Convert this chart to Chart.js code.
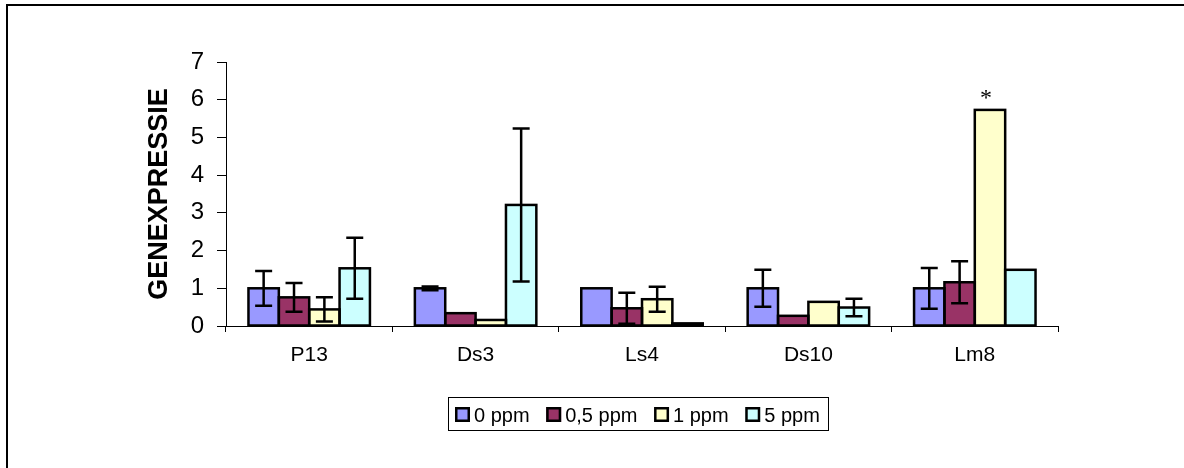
<!DOCTYPE html>
<html>
<head>
<meta charset="utf-8">
<script src="https://cdn.jsdelivr.net/npm/chart.js@4.4.1/dist/chart.umd.min.js"></script>
<style>
  html, body { margin: 0; padding: 0; background: #fff; }
  #c { display: block; }
</style>
</head>
<body>
<canvas id="c" width="1184" height="468"></canvas>
<script>
const categories = ['P13', 'Ds3', 'Ls4', 'Ds10', 'Lm8'];
const seriesNames = ['0 ppm', '0,5 ppm', '1 ppm', '5 ppm'];
const ppm0  = [1.00, 1.00, 1.00, 1.00, 1.00];
const ppm05 = [0.76, 0.34, 0.47, 0.27, 1.16];
const ppm1  = [0.44, 0.16, 0.71, 0.64, 5.73];
const ppm5  = [1.53, 3.21, 0.07, 0.49, 1.49];
const err0  = [0.46, 0.05, 0.00, 0.49, 0.54];
const err05 = [0.38, 0.00, 0.41, 0.00, 0.56];
const err1  = [0.32, 0.00, 0.33, 0.00, 0.00];
const err5  = [0.81, 2.03, 0.00, 0.23, 0.00];
const marks1 = ['', '', '', '', '*'];
const yTicks = [0, 1, 2, 3, 4, 5, 6, 7];

const colors = ['#9999FF', '#993366', '#FFFFCC', '#CCFFFF'];
const values = [ppm0, ppm05, ppm1, ppm5];
const errors = [err0, err05, err1, err5];
const marks = [null, null, marks1, null];

const FONT = "'Liberation Sans', Arial, sans-serif";

const framePlugin = {
  id: 'frame',
  beforeDraw(chart) {
    const ctx = chart.ctx;
    ctx.save();
    ctx.fillStyle = '#fff';
    ctx.fillRect(0, 0, chart.width, chart.height);
    ctx.strokeStyle = '#000';
    ctx.lineWidth = 2;
    ctx.strokeRect(7, 5, 1400, 800);
    ctx.restore();
  }
};

const errorPlugin = {
  id: 'errorbars',
  afterDatasetsDraw(chart) {
    const ctx = chart.ctx;
    const ys = chart.scales.y;
    ctx.save();
    ctx.strokeStyle = '#000';
    // bar outlines, centred on the bar edges
    ctx.lineWidth = 2.5;
    chart.data.datasets.forEach((ds, di) => {
      chart.getDatasetMeta(di).data.forEach((el) => {
        const p = el.getProps(['x', 'y', 'base', 'width'], true);
        const top = Math.min(p.y, p.base), h = Math.abs(p.base - p.y);
        ctx.strokeRect(p.x - p.width / 2, top, p.width, h);
      });
    });
    ctx.lineWidth = 2.5;
    chart.data.datasets.forEach((ds, di) => {
      const meta = chart.getDatasetMeta(di);
      meta.data.forEach((el, i) => {
        const e = errors[di][i];
        const v = values[di][i];
        if (e > 0) {
          const yt = ys.getPixelForValue(v + e);
          const yb = ys.getPixelForValue(Math.max(v - e, 0));
          const hw = 8.5;
          ctx.beginPath();
          ctx.moveTo(el.x, yt); ctx.lineTo(el.x, yb);
          ctx.moveTo(el.x - hw, yt); ctx.lineTo(el.x + hw, yt);
          ctx.moveTo(el.x - hw, yb); ctx.lineTo(el.x + hw, yb);
          ctx.stroke();
        }
        if (marks[di] && marks[di][i]) {
          ctx.fillStyle = '#000';
          ctx.font = "24px 'Liberation Serif', 'Times New Roman', serif";
          ctx.textAlign = 'center';
          ctx.textBaseline = 'alphabetic';
          ctx.fillText(marks[di][i], el.x - 4, el.y - 5);
        }
      });
    });
    ctx.restore();
  }
};

const legendPlugin = {
  id: 'boxLegend',
  afterDraw(chart) {
    const ctx = chart.ctx;
    ctx.save();
    ctx.strokeStyle = '#000';
    ctx.lineWidth = 1;
    ctx.strokeRect(448.5, 397.5, 380, 33);
    ctx.font = '20px ' + FONT;
    ctx.textBaseline = 'alphabetic';
    ctx.textAlign = 'left';
    let x = 455;
    const gap = 16.6;
    chart.data.datasets.forEach((ds, di) => {
      ctx.fillStyle = ds.backgroundColor;
      ctx.fillRect(x, 407, 15, 15);
      ctx.lineWidth = 2.5;
      ctx.strokeStyle = '#000';
      ctx.strokeRect(x + 1.25, 408.25, 12.5, 12.5);
      ctx.fillStyle = '#000';
      ctx.fillText(ds.label, x + 19, 422);
      x += 19 + ctx.measureText(ds.label).width + gap;
    });
    ctx.restore();
  }
};

new Chart(document.getElementById('c'), {
  type: 'bar',
  data: {
    labels: categories,
    datasets: seriesNames.map((name, i) => ({
      label: name,
      data: values[i],
      backgroundColor: colors[i],
      borderColor: '#000',
      borderWidth: 0,
      borderSkipped: false,
      inflateAmount: 0,
      barPercentage: 1.0,
      categoryPercentage: 0.73
    }))
  },
  options: {
    responsive: false,
    animation: false,
    devicePixelRatio: 1,
    layout: { padding: { left: 143, right: 126, top: 62, bottom: 102 } },
    plugins: {
      legend: { display: false },
      tooltip: { enabled: false }
    },
    scales: {
      x: {
        afterFit(scale) { scale.height = 40; },
        grid: { display: true, drawOnChartArea: false, drawTicks: true, tickLength: 6, color: '#000', offset: true },
        border: { display: true, color: '#000', width: 1 },
        ticks: { color: '#000', font: { family: FONT, size: 21 }, padding: 11, maxRotation: 0 }
      },
      y: {
        min: 0,
        max: 7,
        afterFit(scale) { scale.width = 83; },
        afterBuildTicks(scale) { scale.ticks = yTicks.map(v => ({ value: v })); },
        grid: { display: true, drawOnChartArea: false, drawTicks: true, tickLength: 9, color: '#000' },
        border: { display: true, color: '#000', width: 1 },
        ticks: { color: '#000', font: { family: FONT, size: 24 }, padding: 13 },
        title: { display: true, text: 'GENEXPRESSIE', color: '#000', font: { family: FONT, size: 27, weight: 'bold' }, padding: 0 }
      }
    }
  },
  plugins: [framePlugin, errorPlugin, legendPlugin]
});
</script>
</body>
</html>
